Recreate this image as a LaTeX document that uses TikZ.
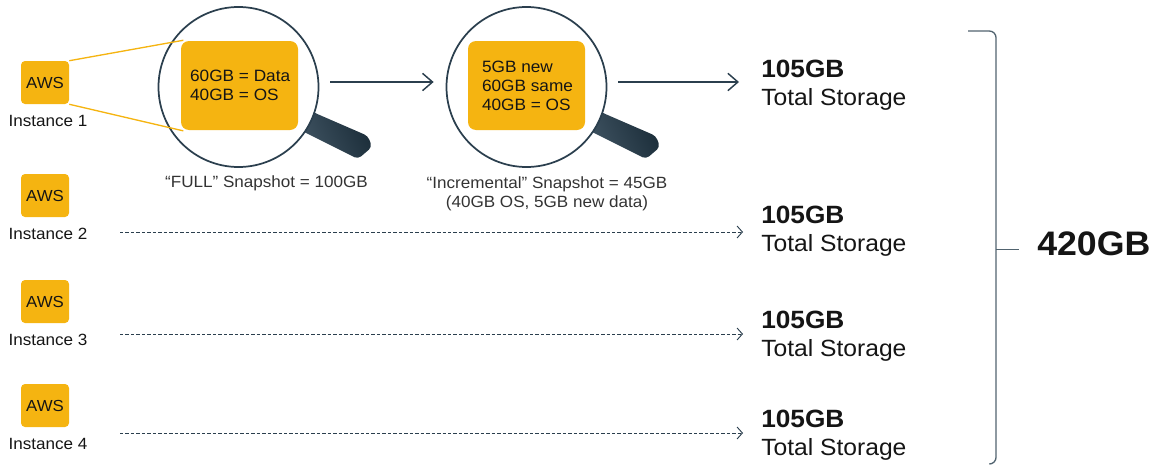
\documentclass[tikz,border=0pt]{standalone}
\usepackage{fontspec}
\setmainfont[FakeStretch=1.05]{Liberation Sans}
\usepackage{tikz}
\usetikzlibrary{arrows.meta, positioning}

\definecolor{awsyellow}{HTML}{F5B411}
\definecolor{slateline}{HTML}{2B3F4E}
\definecolor{slatelight}{HTML}{435766}
\definecolor{slatedark}{HTML}{1A2C38}
\definecolor{bracketgrey}{HTML}{51636F}
\definecolor{inktext}{HTML}{151515}
\definecolor{softtext}{HTML}{333333}

\tikzset{
  awsbox/.style={fill=awsyellow, rounded corners=3pt, minimum width=36pt, minimum height=32.25pt, inner sep=0pt, text=inktext, font=\fontsize{12}{14}\selectfont},
  instlabel/.style={text=inktext, inner sep=0pt, font=\fontsize{12.2}{14}\selectfont},
  lens/.style={circle, draw=slateline, line width=1.3pt, fill=white, minimum size=120pt, inner sep=0pt},
  lensbox/.style={fill=awsyellow, rounded corners=6pt, minimum width=87.75pt, minimum height=66.75pt, inner sep=0pt, align=left, text=inktext},
  snaplabel/.style={text=softtext, inner sep=0pt, align=center, font=\fontsize{12.2}{14.2}\selectfont},
  total/.style={anchor=west, inner sep=0pt, align=left, text=inktext, font=\fontsize{17.6}{20.6}\selectfont},
  handle/.style={left color=slatelight, right color=slatedark, shading angle=115, rounded corners=3pt},
  solidarrow/.style={draw=slateline, line width=1.1pt, -{Straight Barb[length=7.5pt,width=13pt,line width=1.1pt]}},
  dashedarrow/.style={draw=slateline, line width=0.7pt, dash pattern=on 2.6pt off 1.5pt, -{Straight Barb[length=4pt,width=9pt,line width=0.7pt,sep=0pt]}},
  zoomline/.style={draw=awsyellow, line width=1pt},
  bracket/.style={draw=bracketgrey, line width=1pt}
}

\begin{document}
\begin{tikzpicture}[x=0.75pt,y=-0.75pt]
\useasboundingbox (0,0) rectangle (1152,464);

% Handles
\path[handle] (300,105) -- (315,113) -- (368,136) -- (372,147) -- (358,159) -- (290,125) -- cycle;
\path[handle] (588,105) -- (603,113) -- (656,136) -- (660,147) -- (646,159) -- (578,125) -- cycle;

% Lenses
\node[lens] (lens1) at (238.5,87) {};
\node[lens] (lens2) at (526.5,87) {};

% Zoomed boxes
\node[lensbox, font=\fontsize{12.3}{14}\selectfont] (disk1) at (239.5,85.5) {\hspace*{1pt}60GB = Data\\\hspace*{1pt}40GB = OS};
\node[lensbox, font=\fontsize{12.3}{14.2}\selectfont] (disk2) at (526.5,85.5) {\hspace*{1.5pt}5GB new\\\hspace*{1.5pt}60GB same\\\hspace*{1.5pt}40GB = OS};

% Instances
\foreach \i/\y in {1/82.5,2/195.5,3/301.5,4/405.5} {
  \node[awsbox] (aws\i) at (45,\y) {AWS};
  \node[instlabel, below=7.75pt of aws\i, xshift=2.25pt] (inst\i) {Instance \i};
}

\draw[zoomline, shorten >=-2pt] (aws1.north east) -- (disk1.north west);
\draw[zoomline, shorten >=-2pt] (aws1.south east) -- (disk1.south west);

% Snapshot labels
\node[snaplabel] (snap1) at (266.5,183) {``FULL'' Snapshot = 100GB};
\node[snaplabel] (snap2) at (547,193.5) {``Incremental'' Snapshot = 45GB\\(40GB OS, 5GB new data)};

% Totals
\foreach \i/\y in {1/85,2/231,3/336,4/435} {
  \node[total] (total\i) at (761,\y) {{\bfseries\fontsize{18.75}{20.6}\selectfont 105GB}\\Total Storage};
}

% Arrows between lenses and to the first total
\draw[solidarrow] ([shift={(8.25pt,3.75pt)}]lens1.east) -- ([shift={(-9pt,3.75pt)}]lens2.west);
\draw[solidarrow] ([shift={(8.25pt,3.75pt)}]lens2.east) -- ([shift={(-16.5pt,2.25pt)}]total1.west);

% Dashed arrows
\foreach \i/\y in {2/232,3/334,4/433} {
  \coordinate (start\i) at (120,\y);
  \draw[dashedarrow, shorten >=13.5pt] (start\i) -- (start\i -| total\i.west);
}

% Bracket
\coordinate (brtop) at (968,31);
\coordinate (brbot) at (990,464);
\coordinate (brtick) at (996,249.5);
\node[anchor=west, inner sep=0pt, text=inktext, font=\bfseries\fontsize{25.5}{28}\selectfont] (sum) at (1037,244) {420GB};
\draw[bracket, rounded corners=5pt] (brtop) -- (996,31) -- (996,464) -- (brbot);
\draw[bracket, shorten >=13.5pt] (brtick) -- (brtick -| sum.west);
\end{tikzpicture}
\end{document}
